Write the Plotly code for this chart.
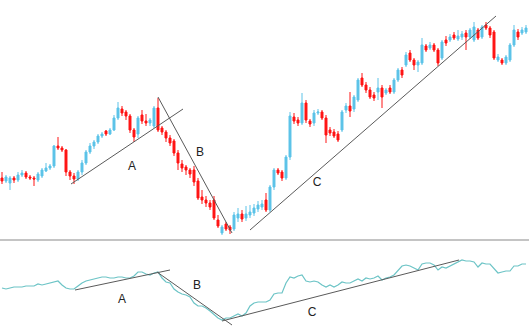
import plotly.graph_objects as go

# ---- price candles (arbitrary price units) ----
opens = [62,59,57,62,60,65,67,63,62,60,64,69,72,74,94,92,90,68,64,61,
         68,77,88,94,98,104,109,106,110,122,131,128,124,110,106,125,119,117,114,132,
         112,108,102,99,87,76,73,70,70,59,43,40,37,40,20,7,16,13,11,22,
         26,22,25,27,31,33,40,30,53,70,68,62,83,123,120,117,137,119,117,127,
         128,122,110,108,106,110,130,134,131,140,162,155,150,145,148,152,147,152,148,160,
         170,175,187,180,175,177,194,192,195,190,182,200,200,205,201,203,207,203,200,210,
         203,215,212,208,180,180,177,180,195,208,207,208]
highs = [68,65,64,64,68,70,69,65,64,68,72,77,76,95,103,94,91,70,67,70,
         80,90,97,100,106,108,110,112,125,138,134,130,126,112,124,130,126,122,134,142,
         114,110,105,101,90,80,75,72,74,62,50,44,40,44,25,15,18,15,28,32,
         30,34,35,36,39,40,47,55,72,72,70,85,128,127,123,147,140,121,130,131,
         130,125,113,111,109,130,137,148,145,162,167,158,153,148,162,155,152,155,162,172,
         173,188,190,182,180,202,196,198,197,192,200,204,206,208,210,209,210,212,218,212,
         215,218,214,210,186,182,185,197,215,211,213,215]
lows = [56,57,50,57,58,63,61,60,54,58,62,68,70,72,90,88,64,60,56,59,
        65,75,86,91,96,102,104,105,109,120,124,120,107,98,102,116,114,114,112,108,
        105,98,94,84,70,68,65,62,54,40,36,33,30,20,12,5,9,6,9,18,
        18,19,22,24,28,30,28,28,50,65,59,60,80,116,114,115,117,113,114,125,
        120,97,104,102,98,108,127,123,128,138,153,147,141,139,140,132,145,146,146,158,
        162,173,178,170,168,175,188,190,188,174,180,194,198,200,199,200,190,201,198,200,
        201,210,202,180,178,175,175,178,193,200,205,206]
closes = [59,63,62,60,65,67,63,62,61,66,70,72,74,94,92,90,68,64,61,68,
          77,88,94,98,104,106,106,110,122,132,127,124,110,103,122,119,117,120,132,110,
          108,102,97,87,77,72,70,66,58,42,40,37,33,22,14,13,11,10,25,26,
          21,26,28,32,35,36,30,53,70,67,62,83,124,119,117,137,120,116,127,128,
          122,105,107,104,100,128,134,129,143,160,155,150,143,142,152,143,150,148,160,170,
          165,185,180,175,178,195,190,195,190,177,198,197,203,202,204,206,203,210,213,202,
          213,212,205,182,183,177,183,195,210,203,210,212]

# ---- oscillator (lower panel) ----
indicator = [40,39,40,41,41,41,42,42,42,44,43,44,45,46,47,43,40,39,39,42,
             45,47,48,49,50,51,51,50,50,51,51,50,50,52,56,56,54,53,55,56,
             50,46,45,39,36,34,33,31,25,22,22,20,17,13,10,8,10,10,12,14,
             12,15,22,25,26,26,26,28,34,35,35,45,51,50,52,53,47,46,47,46,
             43,41,43,41,43,46,45,45,47,49,47,50,49,50,52,48,50,51,53,57,
             62,63,62,60,58,64,65,65,63,58,61,60,62,64,66,68,67,67,66,61,
             65,64,64,59,55,56,57,57,62,62,64,64]

# ---- trend lines (candle index, value) ----
wave_labels = ["A", "B", "C"]
top_lines_x = [[17.25, 45.25], [39.0, 57.5], [62.0, 123.5]]
top_lines_y = [[56, 131], [143, 7], [10, 224]]
top_label_x = [32.5, 49.5, 78.75]
top_label_y = [73, 87, 57]
bot_lines_x = [[18.25, 42.0], [38.75, 57.5], [55.0, 114.25]]
bot_lines_y = [[38, 58], [56, 3], [7, 68]]
bot_label_x = [30.0, 48.75, 77.5]
bot_label_y = [28, 42, 15]

idx = list(range(len(closes)))

fig = go.Figure()
fig.add_trace(go.Candlestick(
    x=idx, open=opens, high=highs, low=lows, close=closes,
    increasing=dict(line=dict(color="#5cc3e8", width=1), fillcolor="#5cc3e8"),
    decreasing=dict(line=dict(color="#ff1414", width=1), fillcolor="#ff1414"),
    xaxis="x", yaxis="y", showlegend=False, hoverinfo="skip"))

fig.add_trace(go.Scatter(x=idx, y=indicator, mode="lines",
                         line=dict(color="#6cc4c6", width=1.2),
                         xaxis="x2", yaxis="y2", showlegend=False, hoverinfo="skip"))

for lx, ly in zip(top_lines_x, top_lines_y):
    fig.add_trace(go.Scatter(x=lx, y=ly, mode="lines", line=dict(color="#5a5a5a", width=1),
                             xaxis="x", yaxis="y", showlegend=False, hoverinfo="skip"))
for lx, ly in zip(bot_lines_x, bot_lines_y):
    fig.add_trace(go.Scatter(x=lx, y=ly, mode="lines", line=dict(color="#5a5a5a", width=1),
                             xaxis="x2", yaxis="y2", showlegend=False, hoverinfo="skip"))

fig.add_trace(go.Scatter(x=top_label_x, y=top_label_y, mode="text", text=wave_labels,
                         textfont=dict(family="Liberation Sans, Arial", size=12, color="#222"),
                         xaxis="x", yaxis="y", showlegend=False, hoverinfo="skip"))
fig.add_trace(go.Scatter(x=bot_label_x, y=bot_label_y, mode="text", text=wave_labels,
                         textfont=dict(family="Liberation Sans, Arial", size=12, color="#222"),
                         xaxis="x2", yaxis="y2", showlegend=False, hoverinfo="skip"))

split = 88 / 328
xr = [-0.5, 131.75]
fig.update_layout(
    width=529, height=328, margin=dict(l=0, r=0, t=0, b=0),
    paper_bgcolor="white", plot_bgcolor="white",
    xaxis=dict(domain=[0, 1], range=xr, visible=False, rangeslider=dict(visible=False), anchor="y"),
    yaxis=dict(domain=[split, 1], range=[0, 240], visible=False, anchor="x"),
    xaxis2=dict(domain=[0, 1], range=xr, visible=False, anchor="y2"),
    yaxis2=dict(domain=[0, split], range=[0, 88], visible=False, anchor="x2"),
    shapes=[dict(type="line", xref="paper", yref="paper", x0=0, x1=1, y0=split, y1=split,
                 line=dict(color="#c4c4c4", width=2))],
)
fig.write_html("out.html")
